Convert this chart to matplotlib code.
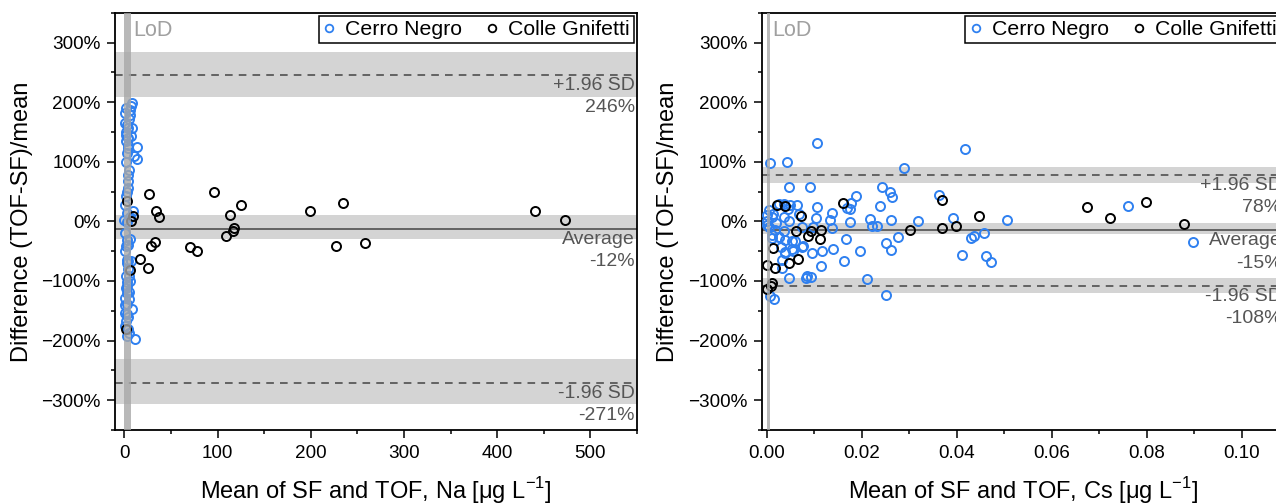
import matplotlib
matplotlib.use('Agg')
import matplotlib.pyplot as plt
from matplotlib.ticker import MultipleLocator, FuncFormatter
from matplotlib.lines import Line2D

plt.rcParams['font.family'] = ['Liberation Sans', 'DejaVu Sans']
plt.rcParams['mathtext.fontset'] = 'custom'
plt.rcParams['mathtext.rm'] = 'Liberation Sans'

# ---------------- data: Na panel ----------------
na_cn_x = [8.1, 6.8, 6.3, 5.6, 4.5, 3, 8.1, 3.5, 2, 6.8, 4, 2, 4, 14.1, 3.5, 9.9, 13.5, 2, 5, 4,
           3.5, 3.5, 2.5, 1.5, 9.2, 3, 0, 2.5, 2.5, 3.5, 1, 3, 7, 2.5, 1.5, 3, 1.5, 3, 1, 5, 3,
           8.1, 1, 4, 2, 4, 5, 3, 11, 1.5, 3.5, 5, 2.5, 4.5, 3, 0.5, 6, 2, 1, 0.5, 1.5, 2.5, 1,
           6, 1, 4, 6, 0.5]
na_cn_y = [198, 193, 187, 179, 171, 162, 157, 156, 150, 143, 139, 134, 128, 124, 123, 109, 104, 99,
           86, 78, 67, 56, 49, 42, 18, 14, 3, -1, -31, -39, -50, -64, -66, -70, -92, -102, -111,
           -120, -128, -131, -139, -147, -153, -161, -167, -181, -187, -192, -197, -42, -67, -92,
           -109, -119, -156, -175, -30, 190, 182, 165, 145, 115, 28, 8, -20, -80, -100, -140]
na_cg_x = [3, 7.4, 9.2, 26.9, 95.9, 34.3, 36.9, 113.3, 125.5, 199.2, 234.4, 440.2, 472.3, 117.3,
           116.3, 108.9, 33.2, 28.4, 70.8, 77.5, 227.3, 258.7, 16.6, 25.8, 5.9, 1.5]
na_cg_y = [34, 0, 9, 46, 50, 18, 7, 11, 27, 18, 30, 17, 3, -11, -16, -25, -35, -42, -43, -50, -41,
           -37, -63, -78, -82, -181]
na_stats = {'mean': -12, 'upper': 246, 'lower': -271}
na_bands = {'upper': (209, 284), 'mean': (-29, 11), 'lower': (-307, -231)}
na_lod = (-0.6, 7.4)

# ---------------- data: Cs panel ----------------
cs_cn = [(0.0007, 98), (0.0043, 99), (0.0105, 131), (0.0418, 121), (0.0288, 89), (0.0048, 57),
         (0.0091, 57), (0.0242, 58), (0.026, 50), (0.0263, 41), (0.0189, 42), (0.0363, 45),
         (0.0239, 25), (0.0106, 24), (0.076, 25), (0.0506, 3), (0.0393, 6), (0.0318, 1),
         (0.0262, 3), (0.0176, -1), (0.0176, 21), (0.0177, 31), (0.0138, 14), (0.0133, 3),
         (0.0138, -11), (0.0217, 4.5), (0.0221, -7), (0.0232, -7), (0.0431, -28), (0.0436, -24),
         (0.0457, -19), (0.0276, -27), (0.0252, -37), (0.0166, -29), (0.0897, -34), (0.0262, -48),
         (0.0196, -50), (0.014, -46), (0.0117, -50), (0.0096, -53), (0.0412, -57), (0.0462, -58),
         (0.0472, -69), (0.0162, -67), (0.0115, -75), (0.0046, -95), (0.0082, -95), (0.0094, -93),
         (0.0211, -97), (0.0252, -123), (0.0016, -131), (0.0007, -125), (0.0033, -78),
         (0.0030, -43), (0.0076, -42), (0.0054, -33), (0.0056, -50), (0.0038, -52), (0.0027, -27),
         (0.0037, -17), (0.0012, -23), (0.0006, -9), (0.0, 11), (0.0011, 7), (0.0037, 7),
         (0.005, 28), (0.0025, 29), (0.0103, 6), (0.0048, 0), (0.0, 0), (0.0006, 19),
         (0.0036, 29), (0.0064, 27), (0.0045, 20), (0.0039, -31), (0.006, -33), (0.0075, -43),
         (0.0053, -47), (0.0039, -53), (0.0032, -64), (0.0098, -9), (0.0075, -9), (0.0085, -92),
         (0.0170, 22), (0.0025, -26), (0.0011, -28), (0.0018, -14), (0.0, -6),
         (0.0014, 12), (0.002, -2), (0.0068, 12)]
cs_cn_x = [p[0] for p in cs_cn]
cs_cn_y = [p[1] for p in cs_cn]
cs_cg_x = [0.0021, 0.0039, 0.0073, 0.0062, 0.0087, 0.0094, 0.0113, 0.0115, 0.0161, 0.0301, 0.0014,
           0.0067, 0.0046, 0.0018, 0.0, 0.0, 0.0011, 0.001, 0.037, 0.0368, 0.0399, 0.0446, 0.0723,
           0.0799, 0.0878, 0.0675]
cs_cg_y = [28, 26, 9.5, -17, -24, -17, -29, -14, 30, -15, -45, -63, -70, -78, -74, -113, -104, -108,
           36, -11, -7, 9.5, 6, 32, -4, 24]
cs_stats = {'mean': -15, 'upper': 78, 'lower': -108}
cs_bands = {'upper': (64, 92), 'mean': (-22, -2), 'lower': (-121, -95)}
cs_lod = (0.0001, 0.0007)

series_names = ['Cerro Negro', 'Colle Gnifetti']
BLUE = '#2f80f0'
BLACK = '#000000'

fig = plt.figure(figsize=(12.76, 5.04), dpi=100)
ax1 = fig.add_axes([115 / 1276, 74 / 504, 522 / 1276, 417.3 / 504])
ax2 = fig.add_axes([761.7 / 1276, 74 / 504, 522 / 1276, 417.3 / 504])

pct = FuncFormatter(lambda v, p: ('%d%%' % v).replace('-', '\u2212'))


def panel(ax, cnx, cny, cgx, cgy, stats, bands, lod, xlim, xmaj, xmin, xfmt, xlabel):
    ax.set_xlim(*xlim)
    ax.set_ylim(-350, 350)
    for key in ('upper', 'mean', 'lower'):
        lo, hi = bands[key]
        ax.axhspan(lo, hi, color='#d4d4d4', lw=0, zorder=1)
    ax.axhline(stats['upper'], color='#444444', lw=1.1, ls=(0, (5, 4)), zorder=2)
    ax.axhline(stats['lower'], color='#444444', lw=1.1, ls=(0, (5, 4)), zorder=2)
    ax.axhline(stats['mean'], color='#444444', lw=1.1, zorder=2)
    ax.plot(cnx, cny, ls='none', marker='o', ms=6.5, mew=1.4, mfc='none', mec=BLUE, zorder=3)
    ax.plot(cgx, cgy, ls='none', marker='o', ms=6.5, mew=1.4, mfc='none', mec=BLACK, zorder=4)
    ax.axvspan(lod[0], lod[1], color='#a8a8a8', alpha=0.8, lw=0, zorder=5)
    ax.annotate('LoD', xy=(lod[1], 1), xycoords=('data', 'axes fraction'), xytext=(1.5, -5.5),
                textcoords='offset points', ha='left', va='top', color='#a0a0a0', fontsize=15.5)
    labels = {'upper': '+1.96 SD\n%d%%' % stats['upper'],
              'mean': 'Average\n%d%%' % stats['mean'],
              'lower': '-1.96 SD\n%d%%' % stats['lower']}
    for key, txt in labels.items():
        ax.annotate(txt, xy=(1, stats[key]), xycoords=('axes fraction', 'data'),
                    xytext=(-1.5, -1.5), textcoords='offset points', ha='right', va='top',
                    color='#555555', fontsize=14, linespacing=1.42, zorder=6)
    ax.xaxis.set_major_locator(MultipleLocator(xmaj))
    ax.xaxis.set_minor_locator(MultipleLocator(xmin))
    ax.xaxis.set_major_formatter(FuncFormatter(xfmt))
    ax.yaxis.set_minor_locator(MultipleLocator(50))
    ax.set_yticks([-300, -200, -100, 0, 100, 200, 300])
    ax.yaxis.set_major_formatter(pct)
    ax.tick_params(which='both', direction='out', top=False, right=False, width=1.1,
                   labelsize=13.6, colors='black')
    ax.tick_params(which='major', length=6, pad=4.5)
    ax.tick_params(which='minor', length=3)
    for s in ax.spines.values():
        s.set_linewidth(1.3)
    ax.set_ylabel('Difference (TOF-SF)/mean', fontsize=17, labelpad=6)
    ax.set_xlabel(xlabel, fontsize=17, labelpad=10)
    handles = [Line2D([], [], ls='none', marker='o', ms=5.5, mew=1.3, mfc='none', mec=BLUE),
               Line2D([], [], ls='none', marker='o', ms=5.5, mew=1.3, mfc='none', mec=BLACK)]
    leg = ax.legend(handles, series_names, loc='upper right', ncol=2, fancybox=False,
                    edgecolor='black', framealpha=1, fontsize=15.3, borderaxespad=0.15,
                    borderpad=0.2, handlelength=0.6, handletextpad=0.45, columnspacing=1.1)
    leg.get_frame().set_linewidth(1.1)
    leg.set_zorder(7)


panel(ax1, na_cn_x, na_cn_y, na_cg_x, na_cg_y, na_stats, na_bands, na_lod,
      (-10, 550), 100, 50, lambda v, p: '%d' % v,
      r'Mean of SF and TOF, Na [μg L$^{\mathregular{-1}}$]')
panel(ax2, cs_cn_x, cs_cn_y, cs_cg_x, cs_cg_y, cs_stats, cs_bands, cs_lod,
      (-0.00104, 0.1088), 0.02, 0.01, lambda v, p: '%.2f' % v,
      r'Mean of SF and TOF, Cs [μg L$^{\mathregular{-1}}$]')

fig.savefig('out.png', dpi=100)
